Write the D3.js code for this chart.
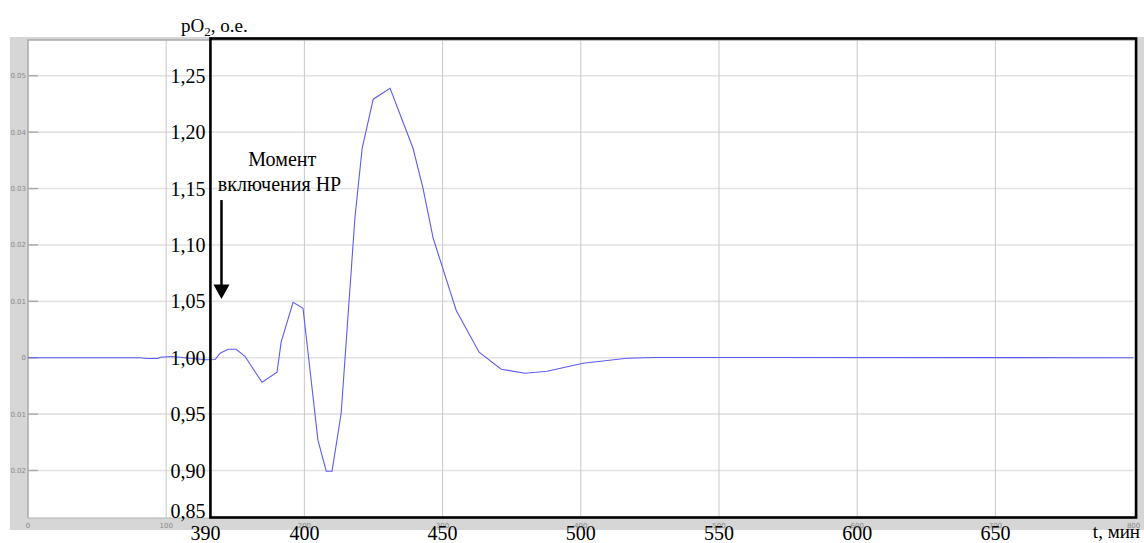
<!DOCTYPE html>
<html>
<head>
<meta charset="utf-8">
<script src="https://cdn.jsdelivr.net/npm/d3@7"></script>
<style>
  body { margin: 0; background: #fff; }
  svg { display: block; }
  .ov { font-family: "Liberation Serif", "Times New Roman", serif; fill: #000; }
  .scope { font-family: "DejaVu Sans", Arial, sans-serif; font-size: 7px; fill: #8a8a8a; }
</style>
</head>
<body>
<div id="chart"></div>
<script>
// time, min
const tValues = [300, 340.6, 343, 347, 347.8, 352.1, 364.1, 367.7, 369.5, 372.4, 375.3, 378.5,
  382.2, 384.7, 390.1, 391.6, 395.9, 399.5, 404.9, 407.9, 410.0, 413.3, 418.3, 420.9, 424.9,
  431.0, 439.3, 442.9, 446.6, 454.9, 463.2, 471.2, 479.9, 487.8, 500.8, 516.7, 526.2, 550.4, 700];
// pO2, o.e.
const pValues = [1.000, 1.000, 0.9993, 0.9993, 1.0004, 1.0011, 0.9982, 0.9984, 1.0040, 1.0075, 1.0075, 1.0013,
  0.9874, 0.9783, 0.9871, 1.0140, 1.0492, 1.0439, 0.9269, 0.8994, 0.8994, 0.9508, 1.1246, 1.1857, 1.2292,
  1.2389, 1.1857, 1.1503, 1.1059, 1.0421, 1.0049, 0.9898, 0.9863, 0.9880, 0.9951, 0.9996, 1.0002, 1.0002, 1.000];

// scope grid (original scope labels)
const gridT = [300, 350, 400, 450, 500, 550, 600, 650, 700];
const scopeXLabels = ['0', '100', '200', '300', '400', '500', '600', '700', '800'];
const gridP = [1.25, 1.20, 1.15, 1.10, 1.05, 1.00, 0.95, 0.90];
const scopeYLabels = ['0.05', '0.04', '0.03', '0.02', '0.01', '0', '0.01', '0.02'];

// overlay axis labels
const tTicks = [400, 450, 500, 550, 600, 650];
const pTicks = [1.25, 1.20, 1.15, 1.10, 1.05, 1.00, 0.95, 0.90];
const frameStartT = 366;
const frameStartLabel = '390';
const bottomLabel = '0,85';

const width = 1144, height = 543;
const plot = { left: 28, right: 1133.6, top: 40, bottom: 518 };

const x = d3.scaleLinear().domain([300, 700]).range([plot.left, plot.right]);
const y = d3.scaleLinear().domain([0.8579, 1.2817]).range([plot.bottom, plot.top]);
const fmt = d => d3.format('.2f')(d).replace('.', ',');

const svg = d3.select('#chart').append('svg')
  .attr('width', width)
  .attr('height', height);

// grey scope panel
svg.append('rect')
  .attr('x', 10).attr('y', 37)
  .attr('width', width - 10).attr('height', 493)
  .attr('fill', '#d6d6d6');

svg.append('rect')
  .attr('x', plot.left).attr('y', plot.top)
  .attr('width', plot.right - plot.left + 1).attr('height', plot.bottom - plot.top)
  .attr('fill', '#fff');

// grid
svg.append('g').selectAll('line')
  .data(gridP)
  .enter().append('line')
  .attr('x1', plot.left).attr('x2', plot.right)
  .attr('y1', d => y(d)).attr('y2', d => y(d))
  .attr('stroke', '#e2e2e2').attr('stroke-width', 1.6);

svg.append('g').selectAll('line')
  .data(gridT.slice(1, -1))
  .enter().append('line')
  .attr('x1', d => x(d)).attr('x2', d => x(d))
  .attr('y1', plot.top).attr('y2', plot.bottom)
  .attr('stroke', '#c9c9c9').attr('stroke-width', 1);

// scope ticks
svg.append('g').selectAll('line')
  .data(gridP)
  .enter().append('line')
  .attr('x1', plot.left).attr('x2', plot.left + 10)
  .attr('y1', d => y(d)).attr('y2', d => y(d))
  .attr('stroke', '#a8a8a8').attr('stroke-width', 1.4);

// scope axes border
svg.append('path')
  .attr('d', `M${plot.left},${plot.bottom}V${plot.top}H${plot.right + 1}`)
  .attr('fill', 'none').attr('stroke', '#a9a9a9').attr('stroke-width', 1.5);
svg.append('line')
  .attr('x1', plot.left).attr('x2', plot.right)
  .attr('y1', plot.bottom).attr('y2', plot.bottom)
  .attr('stroke', '#b5b5b5').attr('stroke-width', 1);

// scope labels
svg.append('g').selectAll('text')
  .data(gridP)
  .enter().append('text')
  .attr('class', 'scope')
  .attr('x', plot.left - 2).attr('y', d => y(d) + 2.5)
  .attr('text-anchor', 'end')
  .text((d, i) => scopeYLabels[i]);

svg.append('g').selectAll('text')
  .data(gridT)
  .enter().append('text')
  .attr('class', 'scope')
  .attr('x', d => x(d)).attr('y', plot.bottom + 10)
  .attr('text-anchor', 'middle')
  .text((d, i) => scopeXLabels[i]);

// series
const series = tValues.map((t, i) => ({ t: t, p: pValues[i] }));
const line = d3.line().x(d => x(d.t)).y(d => y(d.p));
svg.append('path')
  .datum(series)
  .attr('d', line)
  .attr('fill', 'none')
  .attr('stroke', '#5c5cf2')
  .attr('stroke-width', 1.1);

// black frame
svg.append('rect')
  .attr('x', x(frameStartT)).attr('y', plot.top - 1.5)
  .attr('width', plot.right + 2.5 - x(frameStartT)).attr('height', plot.bottom - plot.top + 1)
  .attr('fill', 'none').attr('stroke', '#000').attr('stroke-width', 2.6);

// overlay labels
svg.append('g').selectAll('text')
  .data(pTicks)
  .enter().append('text')
  .attr('class', 'ov')
  .attr('x', x(frameStartT) - 5).attr('y', d => y(d) + 7)
  .attr('text-anchor', 'end')
  .style('font-size', '20px')
  .text(fmt);

svg.append('text')
  .attr('class', 'ov')
  .attr('x', x(frameStartT) - 5).attr('y', plot.bottom)
  .attr('text-anchor', 'end')
  .style('font-size', '20px')
  .text(bottomLabel);

svg.append('g').selectAll('text')
  .data(tTicks)
  .enter().append('text')
  .attr('class', 'ov')
  .attr('x', d => x(d)).attr('y', 540)
  .attr('text-anchor', 'middle')
  .style('font-size', '20px')
  .text(d => d);

svg.append('text')
  .attr('class', 'ov')
  .attr('x', x(frameStartT) - 5).attr('y', 540)
  .attr('text-anchor', 'middle')
  .style('font-size', '20px')
  .text(frameStartLabel);

svg.append('text')
  .attr('class', 'ov')
  .attr('x', 1140).attr('y', 538)
  .attr('text-anchor', 'end')
  .style('font-size', '19px')
  .text('t, мин');

const yTitle = svg.append('text')
  .attr('class', 'ov')
  .attr('x', 181).attr('y', 32)
  .style('font-size', '19px');
yTitle.append('tspan').text('pO');
yTitle.append('tspan').attr('dy', 4).style('font-size', '13px').text('2');
yTitle.append('tspan').attr('dy', -4).text(', о.е.');

// annotation
svg.append('text')
  .attr('class', 'ov')
  .attr('x', x(392)).attr('y', y(1.170))
  .attr('text-anchor', 'middle')
  .style('font-size', '20px')
  .text('Момент');
svg.append('text')
  .attr('class', 'ov')
  .attr('x', x(391)).attr('y', y(1.148))
  .attr('text-anchor', 'middle')
  .style('font-size', '20px')
  .text('включения НР');

const ax = x(370);
svg.append('line')
  .attr('x1', ax).attr('x2', ax)
  .attr('y1', y(1.1398)).attr('y2', y(1.064))
  .attr('stroke', '#000').attr('stroke-width', 2.5);
svg.append('path')
  .attr('d', `M${ax - 8},${y(1.065)}L${ax + 8},${y(1.065)}L${ax},${y(1.052)}Z`)
  .attr('fill', '#000');
</script>
</body>
</html>
